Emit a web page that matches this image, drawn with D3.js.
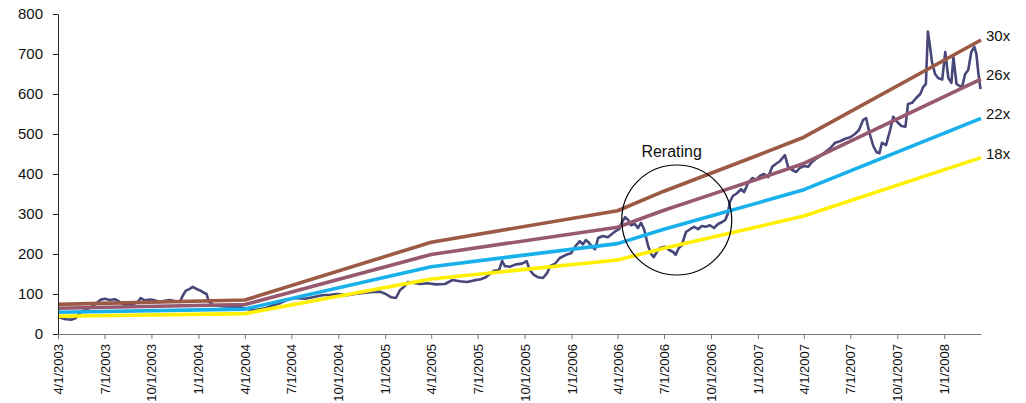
<!DOCTYPE html>
<html>
<head>
<meta charset="utf-8">
<script src="https://cdn.jsdelivr.net/npm/d3@7"></script>
<style>
  html, body { margin: 0; padding: 0; background: #fff; }
  svg { display: block; font-family: Arial, "Liberation Sans", sans-serif; }
</style>
</head>
<body>
<svg id="chart" width="1026" height="403"></svg>
<script>
// Share price (daily close, sampled) and forward-EPS based P/E bands.
const priceDates = [
  "2003-04-01","2003-04-08","2003-04-16","2003-04-28","2003-05-06","2003-05-12","2003-05-17","2003-05-25",
  "2003-06-06","2003-06-18","2003-06-24","2003-07-02","2003-07-11","2003-07-21","2003-07-29","2003-08-06",
  "2003-08-16","2003-08-25","2003-09-04","2003-09-10","2003-09-18","2003-09-28","2003-10-08","2003-10-17",
  "2003-10-27","2003-11-06","2003-11-16","2003-11-26","2003-12-01","2003-12-07","2003-12-15","2003-12-21",
  "2003-12-29","2004-01-06","2004-01-12","2004-01-17","2004-01-21","2004-01-31","2004-02-12","2004-02-28",
  "2004-03-14","2004-03-26","2004-04-07","2004-04-22","2004-05-10","2004-05-26","2004-06-09","2004-06-22",
  "2004-07-08","2004-07-28","2004-08-12","2004-08-30","2004-09-15","2004-09-30","2004-10-18","2004-11-03",
  "2004-11-22","2004-12-08","2004-12-22","2005-01-02","2005-01-12","2005-01-22","2005-01-30","2005-02-07",
  "2005-02-14","2005-02-24","2005-03-10","2005-03-25","2005-04-10","2005-04-28","2005-05-13","2005-05-27",
  "2005-06-10","2005-06-24","2005-07-07","2005-07-17","2005-07-25","2005-08-02","2005-08-12","2005-08-18",
  "2005-08-23","2005-09-02","2005-09-14","2005-09-26","2005-10-05","2005-10-11","2005-10-19","2005-10-27",
  "2005-11-06","2005-11-14","2005-11-20","2005-11-29","2005-12-09","2005-12-21","2005-12-31","2006-01-09",
  "2006-01-17","2006-01-23","2006-01-29","2006-02-04","2006-02-10","2006-02-16","2006-02-22","2006-03-03",
  "2006-03-13","2006-03-21","2006-03-29","2006-04-04","2006-04-10","2006-04-16","2006-04-22","2006-04-27",
  "2006-05-05","2006-05-11","2006-05-17","2006-05-23","2006-05-31","2006-06-06","2006-06-11","2006-06-17",
  "2006-06-23","2006-07-03","2006-07-11","2006-07-19","2006-07-24","2006-07-30","2006-08-05","2006-08-13",
  "2006-08-21","2006-08-29","2006-09-06","2006-09-13","2006-09-21","2006-09-29","2006-10-07","2006-10-15",
  "2006-10-23","2006-10-29","2006-11-03","2006-11-07","2006-11-13","2006-11-21","2006-11-29","2006-12-05",
  "2006-12-13","2006-12-21","2006-12-28","2007-01-05","2007-01-13","2007-01-21","2007-01-29","2007-02-05",
  "2007-02-13","2007-02-23","2007-03-01","2007-03-09","2007-03-17","2007-03-24","2007-04-01","2007-04-09",
  "2007-04-17","2007-04-25","2007-05-03","2007-05-13","2007-05-23","2007-06-01","2007-06-11","2007-06-21",
  "2007-07-01","2007-07-10","2007-07-18","2007-07-26","2007-08-01","2007-08-07","2007-08-15","2007-08-21",
  "2007-08-27","2007-09-01","2007-09-09","2007-09-17","2007-09-23","2007-10-01","2007-10-09","2007-10-17",
  "2007-10-22","2007-10-30","2007-11-07","2007-11-15","2007-11-21","2007-11-26","2007-11-30","2007-12-04",
  "2007-12-08","2007-12-14","2007-12-20","2007-12-28","2008-01-03","2008-01-09","2008-01-15","2008-01-19",
  "2008-01-25","2008-01-31","2008-02-05","2008-02-11","2008-02-17","2008-02-23","2008-02-29","2008-03-04",
  "2008-03-08","2008-03-12"
];
const priceValues = [
  43, 40, 37, 36, 40, 50, 56, 60,
  68, 80, 86, 88, 85, 87, 82, 75,
  72, 74, 80, 90, 84, 86, 84, 80,
  83, 85, 82, 80, 95, 108, 113, 118,
  112, 108, 103, 100, 82, 72, 70, 68,
  69, 66, 62, 60, 64, 72, 77, 85,
  90, 88, 92, 97, 98, 100, 97, 100,
  103, 105, 106, 100, 92, 90, 110, 118,
  130, 128, 125, 127, 124, 125, 135, 132,
  130, 134, 137, 142, 150, 158, 160, 183,
  170, 168, 174, 176, 182, 160, 148, 142,
  140, 152, 170, 175, 190, 198, 202, 220,
  232, 224, 235, 228, 218, 212, 240, 245,
  242, 250, 258, 262, 280, 292, 285, 272,
  275, 265, 278, 262, 220, 200, 192, 205,
  215, 218, 210, 205, 198, 215, 222, 255,
  262, 268, 262, 270, 268, 272, 265, 275,
  280, 285, 300, 330, 345, 352, 362, 355,
  378, 390, 385, 395, 400, 392, 418, 425,
  432, 447, 418, 410, 405, 415, 420, 418,
  430, 438, 445, 455, 465, 478, 482, 488,
  492, 500, 510, 535, 540, 505, 470, 455,
  452, 478, 472, 510, 543, 530, 520, 518,
  575, 578, 590, 600, 618, 625, 756, 720,
  680, 650, 640, 636, 705, 640, 628, 692,
  625, 620, 618, 650, 660, 705, 718, 700,
  650, 612
];

// Forward EPS path used for the P/E bands.
const epsDates  = ["2003-04-01","2004-04-01","2005-04-01","2006-04-01","2006-07-01","2006-10-01","2007-01-01","2007-04-01","2008-03-13"];
const epsValues = [2.47, 2.83, 7.65, 10.27, 11.9, 13.4, 14.9, 16.4, 24.5];

// P/E multiples, top to bottom, with their line colours.
const multiples   = [30, 26, 22, 18];
const bandLabels  = ["30x", "26x", "22x", "18x"];
const bandColors  = ["#9c5a44", "#96596f", "#18b0ea", "#fff000"];

// Axis ticks.
const yTicks = [0, 100, 200, 300, 400, 500, 600, 700, 800];
const xTickLabels = [
  "4/1/2003","7/1/2003","10/1/2003","1/1/2004","4/1/2004","7/1/2004","10/1/2004",
  "1/1/2005","4/1/2005","7/1/2005","10/1/2005","1/1/2006","4/1/2006","7/1/2006",
  "10/1/2006","1/1/2007","4/1/2007","7/1/2007","10/1/2007","1/1/2008"
];
const xDomain = ["2003-04-01", "2008-03-13"];

// Annotation
const noteText = "Rerating";
const noteCenter = { date: "2006-07-26", value: 285 };
const noteLabel = { date: "2006-07-16", value: 443 };

const parse = d3.utcParse("%Y-%m-%d");
const parseTick = d3.utcParse("%m/%d/%Y");

const svg = d3.select("#chart");
const margin = { left: 58, right: 45, top: 14, bottom: 69 };
const W = 1026, H = 403;

const x = d3.scaleUtc()
  .domain(xDomain.map(parse))
  .range([margin.left, W - margin.right]);
const y = d3.scaleLinear()
  .domain([0, 800])
  .range([H - margin.bottom, margin.top]);

const price = priceDates.map((d, i) => ({ date: parse(d), value: priceValues[i] }));
const eps = epsDates.map((d, i) => ({ date: parse(d), value: epsValues[i] }));

const line = d3.line().x(d => x(d.date)).y(d => y(d.value));

// Price first so the bands sit on top of it.
svg.append("path")
  .datum(price)
  .attr("fill", "none")
  .attr("stroke", "#48477a")
  .attr("stroke-width", 2.6)
  .attr("stroke-linejoin", "round")
  .attr("d", line);

// P/E bands, drawn bottom multiple first.
const bands = multiples.map((m, i) => ({
  m, label: bandLabels[i], color: bandColors[i],
  points: eps.map(e => ({ date: e.date, value: e.value * m }))
}));

svg.append("g").selectAll("path")
  .data(bands.slice().reverse())
  .join("path")
  .attr("fill", "none")
  .attr("stroke", d => d.color)
  .attr("stroke-width", 3.6)
  .attr("stroke-linejoin", "round")
  .attr("d", d => line(d.points));

// End-of-line multiple labels
svg.append("g").selectAll("text")
  .data(bands)
  .join("text")
  .attr("x", d => x(d.points[d.points.length - 1].date) + 5)
  .attr("y", d => y(d.points[d.points.length - 1].value) + 1)
  .attr("font-size", 15)
  .attr("fill", "#111")
  .text(d => d.label);

// Y axis
const yAxis = svg.append("g")
  .attr("transform", `translate(${margin.left},0)`)
  .call(d3.axisLeft(y).tickValues(yTicks).tickSize(5).tickPadding(10).tickSizeOuter(0));
yAxis.select(".domain").attr("stroke", "#222");
yAxis.selectAll(".tick line").attr("stroke", "#222");
yAxis.selectAll("text").attr("font-size", 15).attr("fill", "#111").attr("font-family", "Arial, 'Liberation Sans', sans-serif");

// X axis
const xAxis = svg.append("g")
  .attr("transform", `translate(0,${H - margin.bottom})`)
  .call(d3.axisBottom(x)
    .tickValues(xTickLabels.map(parseTick))
    .tickFormat((d, i) => xTickLabels[i])
    .tickSize(5).tickSizeOuter(0));
xAxis.select(".domain").attr("stroke", "#777");
xAxis.selectAll(".tick line").attr("stroke", "#777");
xAxis.selectAll("text")
  .attr("font-size", 13)
  .attr("fill", "#111")
  .attr("font-family", "Arial, 'Liberation Sans', sans-serif")
  .attr("text-anchor", "end")
  .attr("transform", "rotate(-90)")
  .attr("x", -10)
  .attr("y", 0)
  .attr("dy", "0.35em");

// Rerating annotation
svg.append("circle")
  .attr("cx", x(parse(noteCenter.date)))
  .attr("cy", y(noteCenter.value))
  .attr("r", 55)
  .attr("fill", "none")
  .attr("stroke", "#000")
  .attr("stroke-width", 1.2);
svg.append("text")
  .attr("x", x(parse(noteLabel.date)))
  .attr("y", y(noteLabel.value))
  .attr("text-anchor", "middle")
  .attr("font-size", 16)
  .attr("fill", "#111")
  .text(noteText);
</script>
</body>
</html>
